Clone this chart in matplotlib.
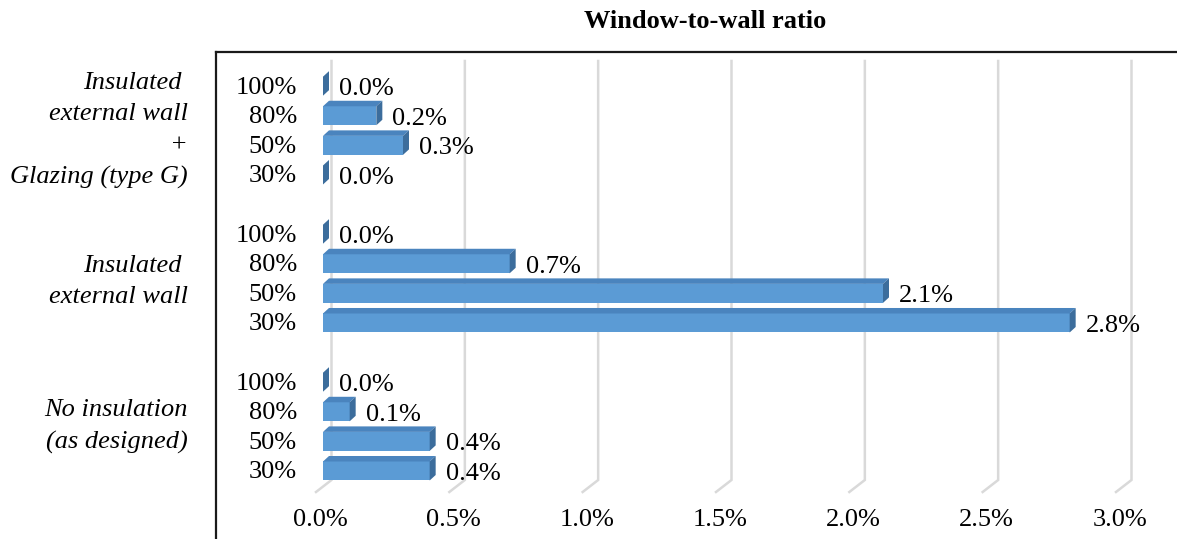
import numpy as np
import matplotlib.pyplot as plt
from matplotlib.patches import Polygon
from matplotlib.lines import Line2D
from matplotlib.transforms import ScaledTranslation

plt.rcParams['font.family'] = ['Liberation Serif', 'DejaVu Serif']

# data: energy saving per window-to-wall ratio, grouped by scenario
wwr = ['30%', '50%', '80%', '100%']
groups = ['No insulation\n(as designed)',
          'Insulated \nexternal wall',
          'Insulated \nexternal wall\n+\nGlazing (type G)']
no_insulation = [0.4, 0.4, 0.1, 0.0]
insulated_wall = [2.8, 2.1, 0.7, 0.0]
insulated_glazing = [0.0, 0.3, 0.2, 0.0]
series = [no_insulation, insulated_wall, insulated_glazing]
xticks = np.arange(0, 3.01, 0.5)

W, H = 1177, 539
fig = plt.figure(figsize=(W / 100, H / 100), dpi=100)
ax = fig.add_axes([323 / W, 49 / H, 800 / W, 429 / H])
ytop, ybot = 13.85, -0.642
ax.set_xlim(0, 3.0)
ax.set_ylim(ybot, ytop)

PX = 3.0 / 800             # one pixel in x data units
PY = (ytop - ybot) / 429   # one pixel in y data units
dx, dy = 6 * PX, 5.5 * PY
h = 19 * PY

front_c = '#5b9bd5'
top_c = '#4a84be'
side_c = '#3c6d9c'
fs = 19

# back-wall gridlines with the slanted floor edge
for v in xticks:
    xb = v + 8.5 * PX
    xf = v - 7 * PX
    ax.plot([xb, xb, xf], [ytop, -9 * PY, -21 * PY], color='#d9d9d9',
            lw=1.8, zorder=0, clip_on=False, solid_joinstyle='miter')

for g, vals in enumerate(series):
    for k, v in enumerate(vals):
        y = g * 5 + k
        y0, y1 = y - h / 2, y + h / 2
        if v > 0:
            ax.add_patch(Polygon([(0, y0), (v, y0), (v, y1), (0, y1)],
                                 closed=True, fc=front_c, ec='none', zorder=2))
            ax.add_patch(Polygon([(0, y1), (v, y1), (v + dx, y1 + dy), (dx, y1 + dy)],
                                 closed=True, fc=top_c, ec='none', zorder=2))
        ax.add_patch(Polygon([(v, y0), (v, y1), (v + dx, y1 + dy), (v + dx, y0 + dy)],
                             closed=True, fc=side_c, ec='none', zorder=3))
        ax.text(v + dx + 10 * PX, y - 3 * PY, f'{v:.1f}%', ha='left', va='center',
                fontsize=fs, zorder=4)
        ax.text(-26 / 800, y - 1.5 * PY, wwr[k], transform=ax.get_yaxis_transform(),
                ha='right', va='center', fontsize=fs)
    ax.text(-135 / 800, g * 5 + 1.5 - (3 * PY if g == 1 else 0), groups[g],
            transform=ax.get_yaxis_transform(),
            ha='right', va='center', fontsize=fs, style='italic', linespacing=1.55)

ax.set_xticks(xticks)
ax.set_xticklabels([f'{t:.1f}%' for t in xticks])
ax.set_yticks([])
ax.tick_params(axis='x', length=0, pad=13.5, labelsize=fs)
shift = ScaledTranslation(-3 / 100, 0, fig.dpi_scale_trans)
for lab in ax.get_xticklabels():
    lab.set_transform(lab.get_transform() + shift)
for s in ax.spines.values():
    s.set_visible(False)

# outer frame (top and left only, the rest is cut off)
fig.add_artist(Line2D([216 / W, 1], [1 - 52 / H] * 2, transform=fig.transFigure,
                      color='#1a1a1a', lw=1.6))
fig.add_artist(Line2D([216 / W] * 2, [0, 1 - 52 / H], transform=fig.transFigure,
                      color='#1a1a1a', lw=1.6))

fig.text(705 / W, 1 - 22 / H, 'Window-to-wall ratio', ha='center', va='center',
         fontsize=19, fontweight='bold')

fig.savefig('out.png', dpi=100)
